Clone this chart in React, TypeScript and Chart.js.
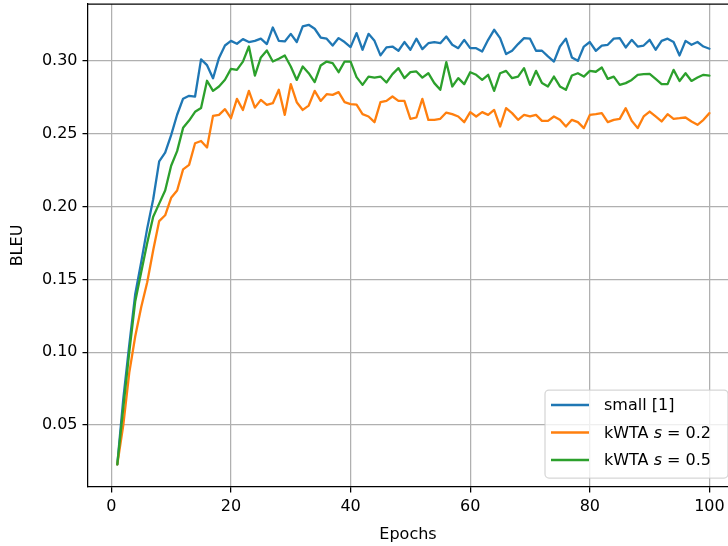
import React, { useEffect, useRef } from "react";
import { Chart, registerables } from "chart.js";

Chart.register(...registerables);

const FONT = "DejaVu Sans";

const epochs = Array.from({ length: 100 }, (_, i) => i + 1);

const smallBleu = [
  0.023, 0.068, 0.105, 0.14, 0.162, 0.185, 0.205, 0.231, 0.237, 0.249,
  0.263, 0.274, 0.276, 0.2755, 0.301, 0.297, 0.288, 0.302, 0.3105, 0.3137,
  0.3117, 0.3149, 0.3129, 0.3137, 0.3152, 0.3115, 0.3229, 0.3137, 0.3133, 0.3185,
  0.3129, 0.3236, 0.3247, 0.322, 0.316, 0.3152, 0.3105, 0.3156, 0.3129, 0.3094,
  0.319, 0.3076, 0.3185, 0.3137, 0.3037, 0.3092, 0.3098, 0.3069, 0.3129, 0.3076,
  0.3152, 0.308, 0.3121, 0.3129, 0.3121, 0.3167, 0.311, 0.3087, 0.3144, 0.3087,
  0.3087, 0.3064, 0.3144, 0.3213, 0.3156, 0.3046, 0.3069, 0.3115, 0.3156, 0.3152,
  0.3069, 0.3069, 0.303, 0.2995, 0.3098, 0.3152, 0.3023, 0.3, 0.3098, 0.3129,
  0.3069, 0.3105, 0.311, 0.3152, 0.3156, 0.3092, 0.3144, 0.3098, 0.3105, 0.3144,
  0.3076, 0.3137, 0.3152, 0.3129, 0.3037, 0.3137, 0.311, 0.3129, 0.3098, 0.3083,
];

const kwta02Bleu = [
  0.023, 0.05, 0.086, 0.111, 0.131, 0.148, 0.17, 0.19, 0.194, 0.206,
  0.211, 0.2255, 0.2286, 0.2434, 0.245, 0.2405, 0.2622, 0.2629, 0.2668, 0.2606,
  0.2739, 0.2663, 0.2794, 0.2679, 0.2732, 0.2698, 0.2709, 0.2801, 0.2629, 0.284,
  0.2716, 0.2663, 0.2693, 0.2794, 0.2725, 0.2771, 0.2766, 0.2785, 0.2716, 0.2703,
  0.27, 0.2634, 0.2618, 0.2579, 0.2716, 0.2725, 0.2755, 0.2725, 0.2725, 0.2602,
  0.2611, 0.2739, 0.2595, 0.2595, 0.2602, 0.2645, 0.2634, 0.2618, 0.2579, 0.2648,
  0.2618, 0.2648, 0.2629, 0.2663, 0.2549, 0.2675, 0.2641, 0.2595, 0.2629, 0.2618,
  0.2629, 0.2588, 0.2588, 0.2618, 0.2595, 0.2549, 0.2595, 0.2579, 0.2538, 0.2629,
  0.2634, 0.2641, 0.2579, 0.2595, 0.2602, 0.2675, 0.2588, 0.2538, 0.2618, 0.2652,
  0.2618, 0.2584, 0.2634, 0.2602, 0.2606, 0.2611, 0.2584, 0.2561, 0.2595, 0.2641,
];

const kwta05Bleu = [
  0.023, 0.062, 0.1, 0.135, 0.155, 0.175, 0.193, 0.202, 0.211, 0.228,
  0.238, 0.254, 0.259, 0.265, 0.2676, 0.2863, 0.2794, 0.2824, 0.287, 0.2945,
  0.2938, 0.2995, 0.3098, 0.2899, 0.3023, 0.3071, 0.2995, 0.3014, 0.3037, 0.2961,
  0.2869, 0.2961, 0.2915, 0.2854, 0.2968, 0.2995, 0.2984, 0.2922, 0.2995, 0.2995,
  0.2888, 0.2835, 0.2892, 0.2885, 0.2892, 0.2851, 0.2909, 0.295, 0.2881, 0.2922,
  0.2927, 0.2885, 0.2915, 0.2847, 0.2801, 0.2991, 0.2824, 0.2881, 0.284, 0.2922,
  0.2904, 0.2869, 0.2904, 0.2794, 0.2915, 0.2931, 0.2881, 0.2892, 0.295, 0.2835,
  0.2931, 0.2847, 0.2824, 0.2892, 0.2824, 0.2801, 0.2899, 0.2915, 0.2892, 0.2931,
  0.2925, 0.2954, 0.2876, 0.2892, 0.2835, 0.2847, 0.2869, 0.2904, 0.2909, 0.2911,
  0.2876, 0.284, 0.284, 0.2938, 0.2862, 0.2915, 0.2862, 0.2885, 0.2904, 0.2899,
];

const xTicks = [0, 20, 40, 60, 80, 100];
const yTicks = [0.05, 0.1, 0.15, 0.2, 0.25, 0.3];

const seriesColors = ["#1f77b4", "#ff7f0e", "#2ca02c"];
// legend label parts: [roman prefix, italic symbol, roman suffix]
const legendParts: [string, string, string][] = [
  ["small [1]", "", ""],
  ["kWTA ", "s", " = 0.2"],
  ["kWTA ", "s", " = 0.5"],
];
const seriesLabels = ["small [1]", "kWTA s = 0.2", "kWTA s = 0.5"];
const seriesValues = [smallBleu, kwta02Bleu, kwta05Bleu];

const framePlugin = {
  id: "frameAndLegend",
  afterDraw(chart: any) {
    const ctx = chart.ctx as CanvasRenderingContext2D;
    const a = chart.chartArea;
    ctx.save();
    // top spine
    ctx.strokeStyle = "#000";
    ctx.lineWidth = 1.25;
    ctx.beginPath();
    ctx.moveTo(a.left - 0.6, a.top);
    ctx.lineTo(a.right, a.top);
    ctx.stroke();

    // legend
    const w = 183;
    const h = 88;
    const x = a.right - w;
    const y = a.bottom - 9 - h;
    const r = 4;
    ctx.beginPath();
    ctx.moveTo(x + r, y);
    ctx.lineTo(x + w - r, y);
    ctx.arcTo(x + w, y, x + w, y + r, r);
    ctx.lineTo(x + w, y + h - r);
    ctx.arcTo(x + w, y + h, x + w - r, y + h, r);
    ctx.lineTo(x + r, y + h);
    ctx.arcTo(x, y + h, x, y + h - r, r);
    ctx.lineTo(x, y + r);
    ctx.arcTo(x, y, x + r, y, r);
    ctx.closePath();
    ctx.fillStyle = "rgba(255,255,255,0.8)";
    ctx.fill();
    ctx.strokeStyle = "rgba(204,204,204,0.8)";
    ctx.lineWidth = 1.25;
    ctx.stroke();

    legendParts.forEach((parts, i) => {
      const ly = y + 15 + i * 27.5;
      ctx.strokeStyle = seriesColors[i];
      ctx.lineWidth = 2.3;
      ctx.lineCap = "butt";
      ctx.beginPath();
      ctx.moveTo(x + 6, ly);
      ctx.lineTo(x + 44, ly);
      ctx.stroke();
      ctx.fillStyle = "#000";
      ctx.textBaseline = "middle";
      ctx.textAlign = "left";
      let tx = x + 59;
      ctx.font = `16px "${FONT}"`;
      ctx.fillText(parts[0], tx, ly + 1);
      tx += ctx.measureText(parts[0]).width;
      if (parts[1]) {
        ctx.font = `italic 16px "${FONT}"`;
        ctx.fillText(parts[1], tx, ly + 1);
        tx += ctx.measureText(parts[1]).width;
        ctx.font = `16px "${FONT}"`;
        ctx.fillText(parts[2], tx, ly + 1);
      }
    });
    ctx.restore();
  },
};

export default function App() {
  const ref = useRef<HTMLCanvasElement | null>(null);

  useEffect(() => {
    if (!ref.current) return;
    const font = { family: FONT, size: 16 };
    const chart = new Chart(ref.current, {
      type: "line",
      data: {
        datasets: seriesValues.map((vals, i) => ({
          label: seriesLabels[i],
          data: vals.map((v, j) => ({ x: epochs[j], y: v })),
          borderColor: seriesColors[i],
          backgroundColor: seriesColors[i],
          borderWidth: 2.3,
          pointRadius: 0,
          tension: 0,
          fill: false,
          borderJoinStyle: "round" as const,
          borderCapStyle: "round" as const,
          order: 2 - i,
        })),
      },
      options: {
        animation: false,
        responsive: false,
        devicePixelRatio: 1,
        layout: { padding: { top: 4, right: 0, left: 0, bottom: 0 } },
        plugins: {
          legend: { display: false },
          tooltip: { enabled: false },
        },
        scales: {
          x: {
            type: "linear",
            min: -3.9,
            max: 103.1,
            afterBuildTicks: (s: any) => {
              s.ticks = xTicks.map((v) => ({ value: v }));
            },
            afterFit: (s: any) => {
              s.height = 59;
              s.paddingLeft = 0;
              s.paddingRight = 0;
            },
            ticks: {
              font,
              color: "#000",
              padding: 5,
              maxRotation: 0,
              autoSkip: false,
              callback: (v: any) => String(v),
            },
            grid: {
              color: "#b0b0b0",
              lineWidth: 1.25,
              tickLength: 5.5,
              tickColor: "#000",
              tickWidth: 1.25,
            },
            border: { color: "#000", width: 1.25 },
            title: {
              display: true,
              text: "Epochs",
              font,
              color: "#000",
              padding: { top: 0, bottom: 2 },
            },
          },
          y: {
            type: "linear",
            min: 0.0075,
            max: 0.339,
            afterBuildTicks: (s: any) => {
              s.ticks = yTicks.map((v) => ({ value: v }));
            },
            afterFit: (s: any) => {
              s.width = 88;
              s.paddingTop = 0;
              s.paddingBottom = 0;
            },
            ticks: {
              font,
              color: "#000",
              padding: 5,
              callback: (v: any) => Number(v).toFixed(2),
            },
            grid: {
              color: "#b0b0b0",
              lineWidth: 1.25,
              tickLength: 5.5,
              tickColor: "#000",
              tickWidth: 1.25,
            },
            border: { color: "#000", width: 1.25 },
            title: {
              display: true,
              text: "BLEU",
              font,
              color: "#000",
              padding: { top: 8, bottom: 0 },
            },
          },
        },
      },
      plugins: [framePlugin],
    } as any);
    return () => chart.destroy();
  }, []);

  return (
    <div
      style={{
        position: "fixed",
        left: 0,
        top: 0,
        width: 728,
        height: 546,
        background: "#fff",
      }}
    >
      <canvas ref={ref} width={728} height={546} style={{ width: 728, height: 546, display: "block" }} />
    </div>
  );
}
